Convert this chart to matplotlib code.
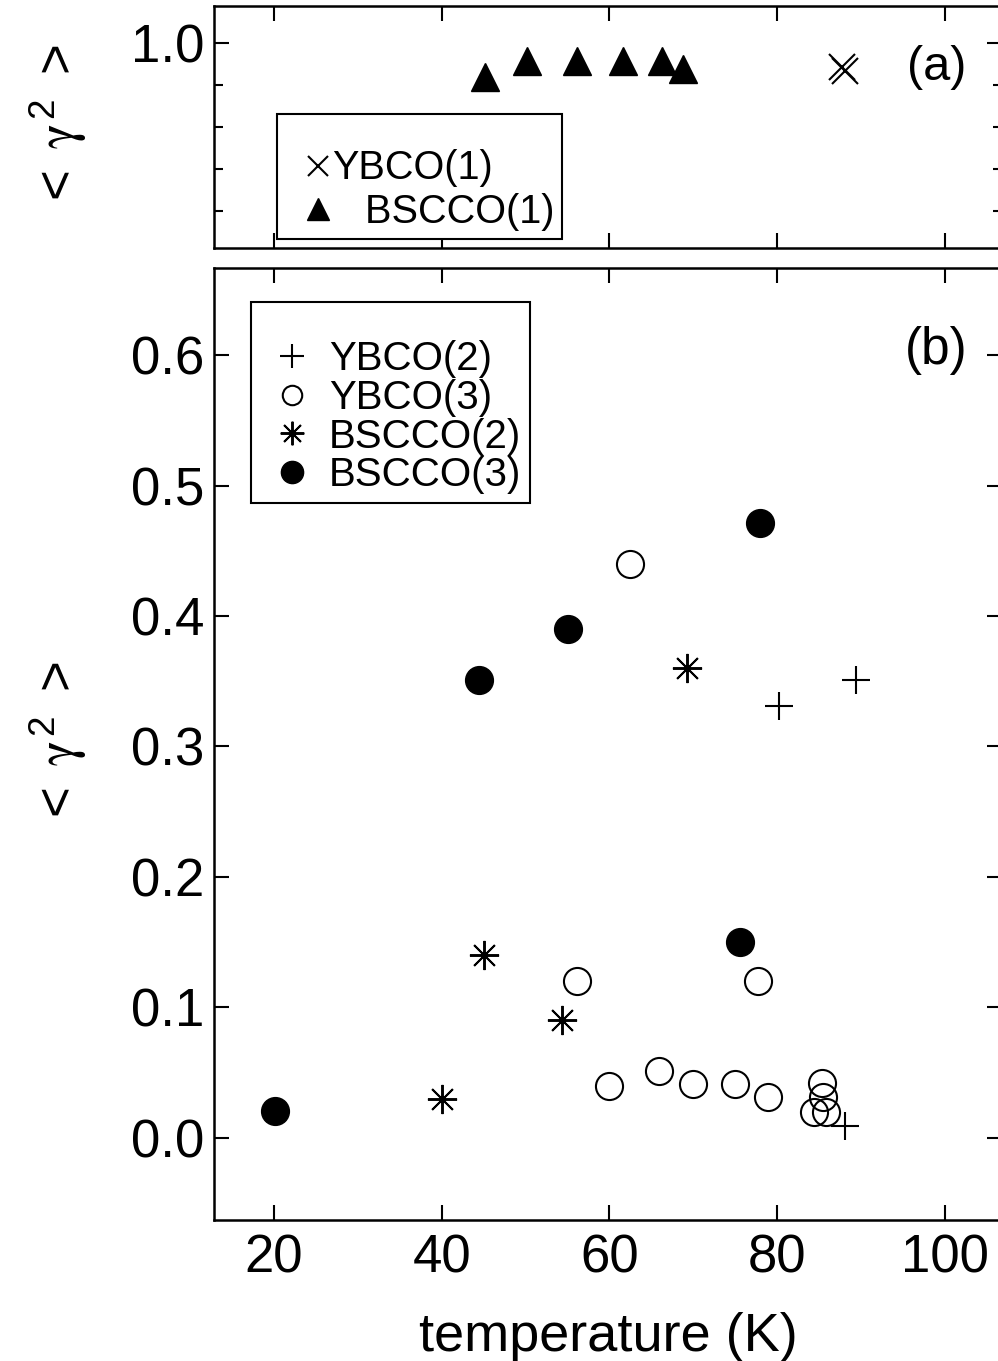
import matplotlib
matplotlib.use('Agg')
import matplotlib.pyplot as plt
from matplotlib.lines import Line2D
from matplotlib.ticker import FixedLocator, NullFormatter

plt.rcParams['font.family'] = ['Liberation Sans', 'DejaVu Sans']
plt.rcParams['mathtext.fontset'] = 'custom'
plt.rcParams['mathtext.rm'] = 'Liberation Sans'
plt.rcParams['mathtext.it'] = 'STIXGeneral'
plt.rcParams['mathtext.bf'] = 'Liberation Sans:bold'

# ---------------- data ----------------
# panel (a)
ybco1_T = [87.7, 88.1]
ybco1_g = [0.971, 0.967]
bscco1_T = [45.2, 50.2, 56.1, 61.6, 66.3, 68.8]
bscco1_g = [0.959, 0.979, 0.979, 0.979, 0.979, 0.969]

# panel (b)
ybco2_T = [80.2, 89.4, 88.1]
ybco2_g = [0.331, 0.351, 0.009]
ybco3_T = [62.4, 56.1, 77.7, 59.9, 65.9, 69.9, 75.0, 78.9, 85.3, 85.5, 84.4, 85.8]
ybco3_g = [0.440, 0.120, 0.120, 0.040, 0.051, 0.041, 0.041, 0.031, 0.042, 0.031, 0.020, 0.020]
bscco2_T = [69.3, 45.0, 54.4, 40.0]
bscco2_g = [0.360, 0.140, 0.090, 0.030]
bscco3_T = [44.5, 55.0, 77.9, 75.6, 20.1]
bscco3_g = [0.351, 0.390, 0.471, 0.150, 0.021]

x_ticks = [20, 40, 60, 80, 100]
b_yticks = [0.0, 0.1, 0.2, 0.3, 0.4, 0.5, 0.6]
a_major = [1.0]
a_minor = [0.95, 0.90, 0.85, 0.80]

ylabel_txt = r'$<\ \gamma^{2}\ >$'

# ---------------- figure ----------------
W, H = 998, 1361
fig = plt.figure(figsize=(W / 100, H / 100), dpi=100)

def frac(l, t, r, b):
    return [l / W, 1 - b / H, (r - l) / W, (b - t) / H]

ax_a = fig.add_axes(frac(214, 6, 1002, 248))
ax_b = fig.add_axes(frac(214, 268, 1002, 1220))

xlim = (12.85, 106.8)
for ax in (ax_a, ax_b):
    ax.set_xlim(*xlim)
    for s in ax.spines.values():
        s.set_linewidth(1.8)
    ax.xaxis.set_major_locator(FixedLocator(x_ticks))
    ax.tick_params(which='major', direction='in', top=True, right=True,
                   length=10.8, width=1.5, labelsize=38, pad=7)
    ax.tick_params(which='minor', direction='in', top=True, right=True,
                   length=6.5, width=1.5)
    ax.tick_params(axis='x', pad=10)

# ---- panel (a)
ax_a.set_ylim(0.756, 1.044)
ax_a.yaxis.set_major_locator(FixedLocator(a_major))
ax_a.yaxis.set_minor_locator(FixedLocator(a_minor))
ax_a.set_yticklabels(['1.0'])
ax_a.xaxis.set_major_formatter(NullFormatter())
ax_a.plot(ybco1_T, ybco1_g, ls='none', marker='x', ms=19, mew=1.5, color='black')
ax_a.plot(bscco1_T, bscco1_g, ls='none', marker='^', ms=20, color='black')
ax_a.text(0.9175, 0.744, '(a)', transform=ax_a.transAxes, fontsize=35,
          ha='center', va='center')
ax_a.set_ylabel(ylabel_txt, fontsize=38, labelpad=30)

h_a = [Line2D([], [], ls='none', marker='x', ms=14, mew=1.5, color='black'),
       Line2D([], [], ls='none', marker='^', ms=16, color='black')]
leg_a = ax_a.legend(h_a, ['YBCO(1)', '   BSCCO(1)'], loc='upper left',
                    bbox_to_anchor=(0.080, 0.554), fontsize=28.5,
                    frameon=True, fancybox=False, edgecolor='black',
                    framealpha=1, borderpad=0.2, handlelength=1.66,
                    handletextpad=-0.47, labelspacing=0.14, borderaxespad=0,
                    title=' ', title_fontsize=17)
leg_a.get_frame().set_linewidth(1.5)

# ---- panel (b)
ax_b.set_ylim(-0.0629, 0.6667)
ax_b.yaxis.set_major_locator(FixedLocator(b_yticks))
ax_b.set_yticklabels(['%.1f' % v for v in b_yticks])
ax_b.plot(ybco2_T, ybco2_g, ls='none', marker='+', ms=20, mew=1.5, color='black')
ax_b.plot(ybco3_T, ybco3_g, ls='none', marker='o', ms=19.5, mew=1.5,
          mfc='none', mec='black')
ax_b.plot(bscco2_T, bscco2_g, ls='none', marker=(8, 2, 0), ms=21, mew=1.4,
          color='black')
ax_b.plot(bscco3_T, bscco3_g, ls='none', marker='o', ms=20, color='black')
ax_b.text(0.917, 0.913, '(b)', transform=ax_b.transAxes, fontsize=37,
          ha='center', va='center')
ax_b.set_ylabel(ylabel_txt, fontsize=38, labelpad=30)
ax_b.set_xlabel('temperature (K)', fontsize=39, labelpad=20)

h_b = [Line2D([], [], ls='none', marker='+', ms=17, mew=1.5, color='black'),
       Line2D([], [], ls='none', marker='o', ms=14, mew=1.5, mfc='none', mec='black'),
       Line2D([], [], ls='none', marker=(8, 2, 0), ms=17, mew=1.4, color='black'),
       Line2D([], [], ls='none', marker='o', ms=16, color='black')]
leg_b = ax_b.legend(h_b, ['YBCO(2)', 'YBCO(3)', 'BSCCO(2)', 'BSCCO(3)'],
                    loc='upper left', bbox_to_anchor=(0.047, 0.964), fontsize=29,
                    frameon=True, fancybox=False, edgecolor='black',
                    framealpha=1, borderpad=0.22, handlelength=1.59,
                    handletextpad=0.12, labelspacing=0.02, borderaxespad=0,
                    title=' ', title_fontsize=21)
leg_b.get_frame().set_linewidth(1.5)

fig.savefig('out.png', dpi=100)
